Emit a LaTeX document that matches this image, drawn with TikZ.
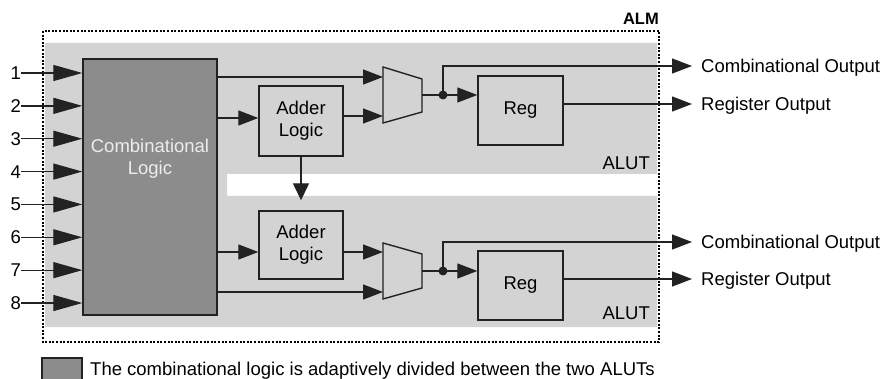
\documentclass[tikz,border=0pt]{standalone}
\usepackage{fontspec}
\setmainfont{Liberation Sans}
\usetikzlibrary{arrows.meta}
\definecolor{bggray}{HTML}{D3D3D3}
\definecolor{clgray}{HTML}{8C8C8C}
\definecolor{ln}{HTML}{222222}
\begin{document}
\begin{tikzpicture}[x=1pt,y=-1pt,
  font=\fontsize{18.5}{22}\selectfont,
  wire/.style={draw=ln,line width=1.3pt},
  arr/.style={wire,-{Triangle[length=20pt,width=15pt]}},
  inarr/.style={wire,-{Triangle[length=29pt,width=16pt]}},
  downarr/.style={wire,-{Triangle[length=17pt,width=16pt]}},
  blk/.style={draw=ln,line width=1.4pt,inner sep=0pt},
  lbl/.style={inner sep=0pt,text height=13pt,text depth=0pt},
  dot/.style={circle,fill=ln,inner sep=0pt,minimum size=9pt},
]
\useasboundingbox (0,0) rectangle (886,379);
% ALUT backgrounds
\fill[bggray] (45,43) -- (657,43) -- (657,174) -- (227,174) -- (227,196)
  -- (657,196) -- (657,327) -- (45,327) -- cycle;
% ALM frame
\draw[line width=1.2pt, dash pattern=on 2pt off 1.6pt] (43,31) rectangle (659,342);
\node[inner sep=0pt, anchor=base east, font=\fontsize{16.5}{18}\selectfont\bfseries] (alm) at (659,25) {ALM};
\node[lbl, anchor=east] (alut1) at (650,163) {ALUT};
\node[lbl, anchor=east] (alut2) at (650,313) {ALUT};

% combinational logic
\node[blk, fill=clgray, minimum width=134pt, minimum height=256pt] (comb) at (150,187) {};
\node[inner sep=0pt, text=white!93!black, align=center] (combtxt) at (150,159) {Combinational\\Logic};

% inputs
\foreach \i in {1,...,8} {
  \node[lbl, anchor=east] (in\i) at (21,{73+(\i-1)*32.86}) {\i};
  \draw[inarr] (in\i.east) -- (comb.west |- in\i.east);
}

% adders and registers
\node[blk, minimum width=84pt, minimum height=70pt, align=center] (add1) at (301,121) {Adder\\Logic};
\node[blk, minimum width=84pt, minimum height=68pt, align=center] (add2) at (301,245) {Adder\\Logic};
\node[blk, minimum width=85pt, minimum height=69pt] (reg1) at (520.5,110.5) {\raisebox{3pt}{Reg}};
\node[blk, minimum width=85pt, minimum height=69pt] (reg2) at (520.5,285.5) {\raisebox{3pt}{Reg}};

% multiplexers
\draw[blk] (383,67) -- (422,79) -- (422,112) -- (383,123) -- cycle;
\coordinate (m1a) at (383,77);
\coordinate (m1b) at (383,116);
\coordinate (m1o) at (422,95);
\draw[blk] (383,243) -- (422,254) -- (422,288) -- (383,299) -- cycle;
\coordinate (m2a) at (383,252);
\coordinate (m2b) at (383,292);
\coordinate (m2o) at (422,271);

\node[dot] (d1) at (443,95) {};
\node[dot] (d2) at (443,271) {};

% output labels
\node[lbl, anchor=west] (oc1) at (701,66) {Combinational Output};
\node[lbl, anchor=west] (or1) at (701,104) {Register Output};
\node[lbl, anchor=west] (oc2) at (701,242) {Combinational Output};
\node[lbl, anchor=west] (or2) at (701,279) {Register Output};

% top ALUT wiring
\draw[arr] (comb.east |- m1a) -- (m1a);
\draw[arr] (comb.east |- 0,118) -- (add1.west |- 0,118);
\draw[arr] (add1.east |- m1b) -- (m1b);
\draw[wire] (m1o) -- (d1.center);
\draw[arr] (d1.center) -- (reg1.west |- d1);
\draw[arr, shorten >=9pt] (d1.center) |- (oc1.west);
\draw[arr, shorten >=9pt] (reg1.east |- or1.west) -- (or1.west);

% carry between adders
\draw[downarr, shorten >=10pt] (add1.south) -- (add2.north);

% bottom ALUT wiring
\draw[arr] (comb.east |- 0,252) -- (add2.west |- 0,252);
\draw[arr] (add2.east |- m2a) -- (m2a);
\draw[arr] (comb.east |- m2b) -- (m2b);
\draw[wire] (m2o) -- (d2.center);
\draw[arr] (d2.center) -- (reg2.west |- d2);
\draw[arr, shorten >=9pt] (d2.center) |- (oc2.west);
\draw[arr, shorten >=9pt] (reg2.east |- or2.west) -- (or2.west);

% legend
\node[blk, fill=clgray, minimum width=40pt, minimum height=30pt] (legbox) at (62,373) {};
\node[lbl, anchor=west] (legtxt) at (90,369) {The combinational logic is adaptively divided between the two ALUTs};
\end{tikzpicture}
\end{document}
